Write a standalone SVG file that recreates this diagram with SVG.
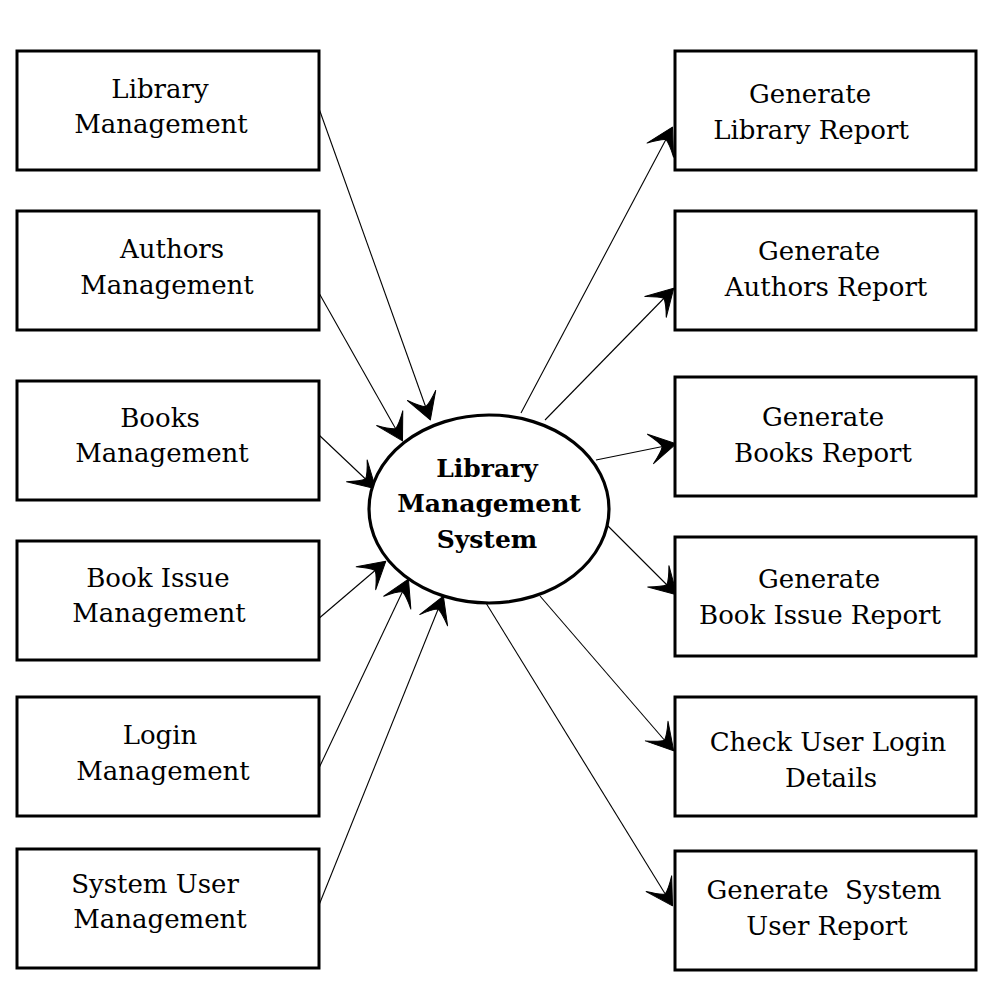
<svg xmlns="http://www.w3.org/2000/svg" width="1000" height="1000" viewBox="0 0 1000 1000">
<style>
.box{fill:#fff;stroke:#000;stroke-width:3}
.t{font-family:"DejaVu Serif","Liberation Serif",serif;font-size:26px;text-anchor:middle;fill:#000}
.b{font-weight:bold;font-size:25px}
.c{stroke:#000;stroke-width:1.1;fill:none;marker-end:url(#ah)}
</style>
<defs>
<marker id="ah" markerUnits="userSpaceOnUse" orient="auto" markerWidth="40" markerHeight="40" viewBox="-30 -20 34 40" refX="0" refY="0">
<path d="M1,0 L-25,-15 Q-15,-5 -13,0 Q-15,5 -25,15 Z" fill="#000" stroke="#000" stroke-width="1" stroke-linejoin="round"/>
</marker>
</defs>
<rect width="1000" height="1000" fill="#fff"/>
<g id="connectors">
<line class="c" x1="317" y1="103" x2="430" y2="419"/>
<line class="c" x1="319" y1="293" x2="402" y2="440"/>
<line class="c" x1="319" y1="435" x2="375" y2="488"/>
<line class="c" x1="317" y1="620" x2="385" y2="562"/>
<line class="c" x1="319" y1="768" x2="408" y2="580"/>
<line class="c" x1="317" y1="910" x2="443" y2="597"/>
<line class="c" x1="521" y1="413" x2="672" y2="128"/>
<line class="c" x1="545" y1="420" x2="673" y2="289"/>
<line class="c" x1="596" y1="460" x2="675" y2="444"/>
<line class="c" x1="605" y1="523" x2="676" y2="594"/>
<line class="c" x1="540" y1="596" x2="673" y2="750"/>
<line class="c" x1="486" y1="603" x2="672" y2="905"/>
</g>
<g id="n-lib"><rect class="box" x="17" y="51" width="302" height="119"/><text class="t" x="160" y="98">Library</text><text class="t" x="161" y="133">Management</text></g>
<g id="n-auth"><rect class="box" x="17" y="211" width="302" height="119"/><text class="t" x="172" y="258">Authors</text><text class="t" x="167" y="294">Management</text></g>
<g id="n-books"><rect class="box" x="17" y="381" width="302" height="119"/><text class="t" x="160" y="427">Books</text><text class="t" x="162" y="462">Management</text></g>
<g id="n-issue"><rect class="box" x="17" y="541" width="302" height="119"/><text class="t" x="158" y="587">Book Issue</text><text class="t" x="159" y="622">Management</text></g>
<g id="n-login"><rect class="box" x="17" y="697" width="302" height="119"/><text class="t" x="160" y="744">Login</text><text class="t" x="163" y="780">Management</text></g>
<g id="n-sysuser"><rect class="box" x="17" y="849" width="302" height="119"/><text class="t" x="155" y="893">System User</text><text class="t" x="160" y="928">Management</text></g>
<g id="n-center"><ellipse cx="489" cy="509" rx="120" ry="94" fill="#fff" stroke="#000" stroke-width="3.2"/><text class="t b" x="487" y="477">Library</text><text class="t b" x="489" y="512">Management</text><text class="t b" x="487" y="548">System</text></g>
<g id="r-lib"><rect class="box" x="675" y="51" width="301" height="119"/><text class="t" x="810" y="103">Generate</text><text class="t" x="811" y="139">Library Report</text></g>
<g id="r-auth"><rect class="box" x="675" y="211" width="301" height="119"/><text class="t" x="819" y="260">Generate</text><text class="t" x="826" y="296">Authors Report</text></g>
<g id="r-books"><rect class="box" x="675" y="377" width="301" height="119"/><text class="t" x="823" y="426">Generate</text><text class="t" x="823" y="462">Books Report</text></g>
<g id="r-issue"><rect class="box" x="675" y="537" width="301" height="119"/><text class="t" x="819" y="588">Generate</text><text class="t" x="820" y="624">Book Issue Report</text></g>
<g id="r-login"><rect class="box" x="675" y="697" width="301" height="119"/><text class="t" x="828" y="751">Check User Login</text><text class="t" x="831" y="787">Details</text></g>
<g id="r-sysuser"><rect class="box" x="675" y="851" width="301" height="119"/><text class="t" x="824" y="899" xml:space="preserve">Generate  System</text><text class="t" x="827" y="935">User Report</text></g>
</svg>
